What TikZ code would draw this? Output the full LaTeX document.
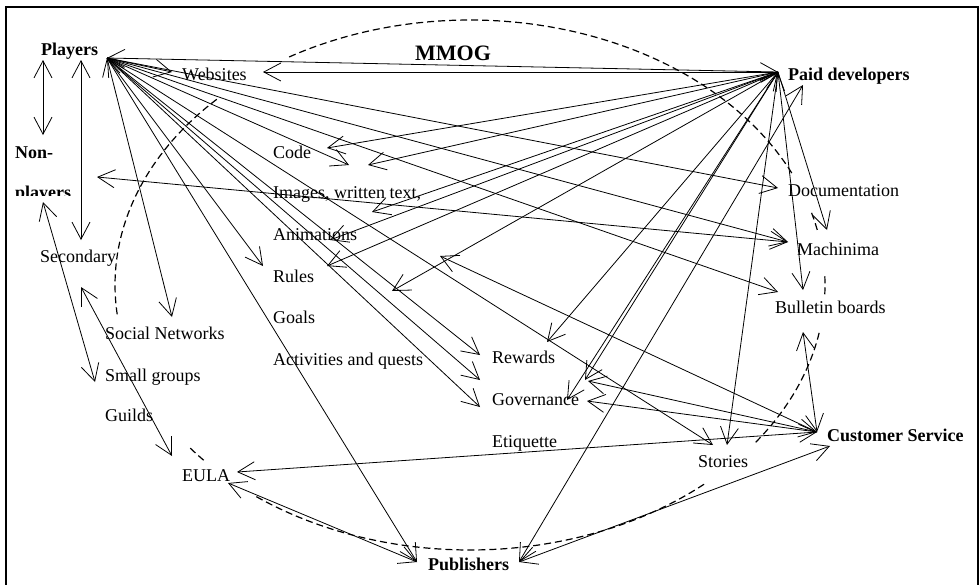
\documentclass[tikz,border=0pt]{standalone}
\usepackage{fontspec}
\setmainfont{Liberation Serif}
\usetikzlibrary{arrows.meta}
\tikzset{
  txt/.style={anchor=base west, inner sep=0pt, font=\fontsize{18}{20}\selectfont},
  who/.style={txt, font=\fontsize{18}{20}\selectfont\bfseries},
  ar/.style={-{Straight Barb[length=17pt,width=18pt]}, line width=0.8pt},
  dar/.style={{Straight Barb[length=17pt,width=18pt]}-{Straight Barb[length=17pt,width=18pt]}, line width=0.8pt},
  rim/.style={dash pattern=on 7pt off 4pt, line width=1.2pt}
}
\begin{document}
\begin{tikzpicture}[x=1pt,y=-1pt]
\useasboundingbox (0,0) rectangle (980,584);
\draw[line width=2pt] (6,7) rectangle (978,600);
\draw[rim] plot[domain=25:121,samples=90] ({470+355*cos(\x)},{285-265*sin(\x)});
\draw[rim] plot[domain=135.5:186.5,samples=50] ({470+355*cos(\x)},{285-265*sin(\x)});
\draw[rim] plot[domain=218:222,samples=5] ({470+355*cos(\x)},{285-265*sin(\x)});
\draw[rim] plot[domain=233:311.4,samples=80] ({470+355*cos(\x)},{285-265*sin(\x)});
\draw[rim] plot[domain=323.6:349.6,samples=30] ({470+355*cos(\x)},{285-265*sin(\x)});
\draw[rim] plot[domain=-2:2,samples=5] ({470+355*cos(\x)},{285-265*sin(\x)});
\draw[rim] plot[domain=12:16,samples=5] ({470+355*cos(\x)},{285-265*sin(\x)});

\node[who] (players) at (41,55) {Players};
\node[txt, font=\fontsize{22}{24}\selectfont\bfseries] (mmog) at (415,60) {MMOG};
\node[txt] (websites) at (182,80) {Websites};
\node[who] (paid) at (788,80) {Paid developers};
\node[who] (non) at (15,158) {Non-};
\begin{scope}
\clip (0,180) rectangle (240,195);
\node[who] (nonb) at (15,198) {players};
\end{scope}
\node[txt] (code) at (273,158) {Code};
\node[txt] (images) at (273,198) {Images, written text,};
\node[txt] (anim) at (273,240) {Animations};
\node[txt] (rules) at (273,282) {Rules};
\node[txt] (goals) at (273,323) {Goals};
\node[txt] (quests) at (273,365) {Activities and quests};
\node[txt] (second) at (40,262) {Secondary};
\node[txt] (social) at (105,339) {Social Networks};
\node[txt] (small) at (105,381) {Small groups};
\node[txt] (guilds) at (105,421) {Guilds};
\node[txt] (eula) at (182,481) {EULA};
\node[txt] (rewards) at (492,363) {Rewards};
\node[txt] (gov) at (492,405) {Governance};
\node[txt] (etiq) at (492,447) {Etiquette};
\node[who] (pub) at (428,570) {Publishers};
\node[txt] (doc) at (788,196) {Documentation};
\node[txt] (mach) at (797,255) {Machinima};
\node[txt] (bull) at (775,313) {Bulletin boards};
\node[who] (cust) at (827,441) {Customer Service};
\node[txt] (stories) at (698,467) {Stories};

\coordinate (pl) at (107,58);
\coordinate (pd) at (778,72);
\coordinate (cs) at (817,432);
\coordinate (pbl) at (417,562);
\coordinate (pbr) at (519,562);
\coordinate (pn1) at (43,60);
\coordinate (pn2) at (43,135);
\coordinate (ps1) at (81,60);
\coordinate (ps2) at (81,240);
\coordinate (ns1) at (43,202);
\coordinate (ns2) at (95,382);
\coordinate (se1) at (81,287);
\coordinate (se2) at (172,456);
\coordinate (nm) at (97,177);
\coordinate (machin) at (788,242);
\coordinate (socin) at (172,317);
\coordinate (eulab) at (228,483);
\coordinate (eular) at (237,472);
\coordinate (csb) at (830,446);
\coordinate (pdb) at (803,85);
\coordinate (webl) at (172,72);
\coordinate (webr) at (263,72);
\coordinate (codep) at (349,165);
\coordinate (rulesp) at (263,266);
\coordinate (rewp) at (480,355);
\coordinate (govp1) at (480,380);
\coordinate (govp2) at (480,407);
\coordinate (docin) at (778,188);
\coordinate (bullin) at (778,292);
\coordinate (stop) at (713,445);
\coordinate (coded1) at (327,148);
\coordinate (coded2) at (368,165);
\coordinate (imgd) at (372,212);
\coordinate (anid) at (330,240);
\coordinate (rulesd) at (327,266);
\coordinate (goalsd) at (392,291);
\coordinate (rewd) at (547,342);
\coordinate (govd1) at (585,380);
\coordinate (govd2) at (567,400);
\coordinate (stod) at (727,445);
\coordinate (bulld) at (803,290);
\coordinate (machd) at (827,230);
\coordinate (anic) at (440,256);
\coordinate (govc1) at (588,381);
\coordinate (govc2) at (587,401);
\coordinate (bullc) at (803,332);

\draw[dar] (pn1)--(pn2);
\draw[dar] (ps1)--(ps2);
\draw[dar] (ns1)--(ns2);
\draw[dar] (se1)--(se2);
\draw[dar] (nm)--(machin);
\draw[dar] (pl)--(socin);
\draw[dar] (pl)--(pbl);
\draw[dar] (eulab)--(pbl);
\draw[dar] (eular)--(cs);
\draw[dar] (pbr)--(csb);
\draw[dar] (pbr)--(pdb);
\draw[dar] (pl)--(pd);
\draw[ar] (pl)--(webl);
\draw[ar] (pd)--(webr);
\draw[ar] (pl)--(codep);
\draw[ar] (pl)--(rulesp);
\draw[ar] (pl)--(rewp);
\draw[ar] (pl)--(govp1);
\draw[ar] (pl)--(govp2);
\draw[ar] (pl)--(docin);
\draw[ar] (pl)--(machin);
\draw[ar] (pl)--(bullin);
\draw[ar] (pl)--(stop);
\draw[ar] (pd)--(coded1);
\draw[ar] (pd)--(coded2);
\draw[ar] (pd)--(imgd);
\draw[ar] (pd)--(anid);
\draw[ar] (pd)--(rulesd);
\draw[ar] (pd)--(goalsd);
\draw[dar] (pd)--(rewd);
\draw[dar] (pd)--(govd1);
\draw[ar] (pd)--(govd2);
\draw[dar] (pd)--(stod);
\draw[ar] (pd)--(bulld);
\draw[ar] (pd)--(machd);
\draw[ar] (cs)--(anic);
\draw[dar] (cs)--(govc1);
\draw[ar] (cs)--(govc2);
\draw[dar] (cs)--(bullc);
\end{tikzpicture}
\end{document}
